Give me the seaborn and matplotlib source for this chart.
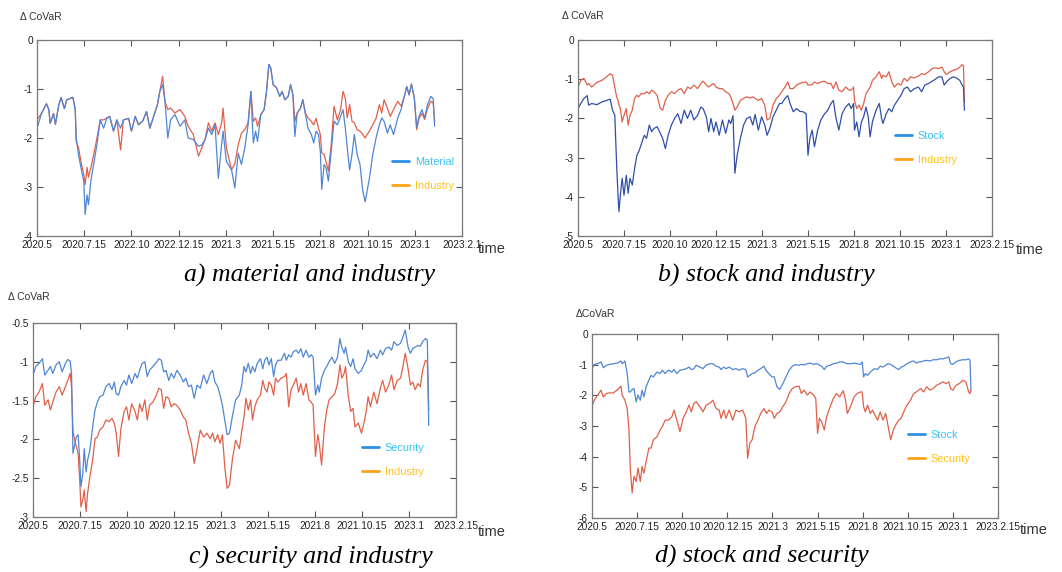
import numpy as np
import pandas as pd
import matplotlib
matplotlib.use("Agg")
import matplotlib.pyplot as plt
from matplotlib.lines import Line2D
import seaborn as sns

# tick labels (x axis = time, 10 evenly spaced labels)
ticks_a = ['2020.5', '2020.7.15', '2022.10', '2022.12.15', '2021.3', '2021.5.15',
           '2021.8', '2021.10.15', '2023.1', '2023.2.1']
ticks_bcd = ['2020.5', '2020.7.15', '2020.10', '2020.12.15', '2021.3', '2021.5.15',
             '2021.8', '2021.10.15', '2023.1', '2023.2.15']

# a) material and industry
t_a = [0.00, 0.10, 0.20, 0.25, 0.28, 0.35, 0.39, 0.46, 0.51, 0.58, 0.63, 0.76, 0.81, 0.83, 0.88, 0.93,
       0.99, 1.02, 1.06, 1.09, 1.14, 1.20, 1.27, 1.34, 1.41, 1.48, 1.54, 1.62, 1.69, 1.77, 1.83, 1.94,
       2.00, 2.08, 2.15, 2.24, 2.32, 2.39, 2.46, 2.55, 2.60, 2.66, 2.71, 2.77, 2.83, 2.92, 3.03, 3.13,
       3.20, 3.31, 3.42, 3.49, 3.56, 3.63, 3.70, 3.77, 3.84, 3.91, 3.94, 4.01, 4.12, 4.19, 4.26, 4.33,
       4.40, 4.47, 4.53, 4.58, 4.63, 4.67, 4.74, 4.81, 4.86, 4.91, 4.95, 5.00, 5.07, 5.14, 5.19, 5.25,
       5.32, 5.37, 5.42, 5.46, 5.51, 5.58, 5.63, 5.68, 5.74, 5.81, 5.86, 5.91, 5.96, 6.00, 6.03, 6.08,
       6.12, 6.17, 6.23, 6.29, 6.36, 6.43, 6.48, 6.53, 6.57, 6.62, 6.67, 6.72, 6.78, 6.84, 6.90, 6.95,
       6.99, 7.04, 7.11, 7.18, 7.25, 7.30, 7.35, 7.42, 7.48, 7.55, 7.64, 7.71, 7.78, 7.83, 7.88, 7.93,
       7.99, 8.04, 8.09, 8.15, 8.21, 8.27, 8.34, 8.39, 8.42]
material_a = [-1.80, -1.49, -1.30, -1.42, -1.70, -1.50, -1.72, -1.33, -1.17, -1.40, -1.22, -1.17, -1.42, -2.00, -2.34, -2.60,
              -2.88, -3.56, -3.16, -3.36, -2.88, -2.54, -2.13, -1.63, -1.80, -1.59, -1.56, -1.86, -1.63, -1.80, -1.63, -1.60,
              -1.86, -1.56, -1.73, -1.65, -1.46, -1.80, -1.59, -1.32, -1.05, -0.91, -1.25, -2.00, -1.63, -1.52, -1.76, -1.63,
              -2.00, -2.03, -2.17, -2.14, -2.03, -1.80, -1.93, -1.73, -2.82, -2.13, -1.86, -2.48, -2.65, -3.02, -2.31, -2.54,
              -2.20, -1.73, -1.05, -2.10, -1.86, -2.07, -1.52, -1.42, -1.05, -0.50, -0.57, -0.91, -0.97, -1.15, -1.05, -1.22,
              -1.15, -0.91, -1.12, -1.97, -1.49, -1.39, -1.22, -1.49, -1.80, -1.93, -2.10, -1.86, -1.93, -2.27, -3.05, -2.54,
              -2.61, -2.88, -2.27, -1.66, -1.73, -1.56, -1.42, -1.80, -2.20, -2.65, -2.34, -1.93, -2.34, -2.54, -3.09, -3.30,
              -3.09, -2.82, -2.34, -2.00, -1.73, -1.59, -1.66, -1.90, -1.73, -1.93, -1.59, -1.42, -1.15, -0.95, -1.12, -0.90,
              -1.18, -1.78, -1.56, -1.42, -1.59, -1.32, -1.15, -1.20, -1.76]
industry_a = [-1.63, -1.49, -1.30, -1.42, -1.70, -1.50, -1.72, -1.33, -1.17, -1.40, -1.22, -1.17, -1.42, -2.07, -2.20, -2.48,
              -2.75, -2.95, -2.60, -2.80, -2.61, -2.34, -2.00, -1.63, -1.63, -1.59, -1.56, -1.86, -1.63, -2.24, -1.63, -1.60,
              -1.86, -1.56, -1.73, -1.65, -1.46, -1.80, -1.59, -1.32, -1.05, -0.74, -1.25, -1.42, -1.39, -1.49, -1.42, -1.56,
              -1.76, -1.93, -2.37, -2.20, -2.03, -1.69, -1.86, -1.69, -1.93, -1.69, -1.39, -2.20, -2.65, -2.52, -2.14, -1.90,
              -1.83, -1.69, -1.05, -1.66, -1.59, -1.76, -1.52, -1.42, -1.05, -0.50, -0.57, -0.91, -0.97, -1.15, -1.05, -1.22,
              -1.15, -0.91, -1.12, -1.66, -1.49, -1.39, -1.22, -1.49, -1.59, -1.66, -1.73, -1.60, -1.80, -1.93, -2.30, -2.34,
              -2.48, -2.67, -2.14, -1.35, -1.63, -1.42, -1.05, -1.19, -1.59, -1.32, -1.66, -1.69, -1.83, -1.86, -1.93, -2.00,
              -1.93, -1.86, -1.73, -1.60, -1.32, -1.49, -1.22, -1.39, -1.56, -1.42, -1.25, -1.35, -1.15, -0.95, -1.12, -0.90,
              -1.18, -1.83, -1.60, -1.50, -1.62, -1.40, -1.25, -1.28, -1.66]

# b) stock and industry
t_b = [0.00, 0.06, 0.13, 0.20, 0.23, 0.30, 0.41, 0.52, 0.62, 0.70, 0.75, 0.80, 0.84, 0.87, 0.89, 0.92,
       0.96, 1.00, 1.05, 1.09, 1.13, 1.18, 1.23, 1.28, 1.32, 1.37, 1.44, 1.49, 1.55, 1.60, 1.65, 1.72,
       1.79, 1.84, 1.90, 1.96, 2.03, 2.10, 2.17, 2.24, 2.31, 2.38, 2.45, 2.52, 2.60, 2.67, 2.72, 2.79,
       2.84, 2.89, 2.95, 3.00, 3.07, 3.14, 3.21, 3.28, 3.32, 3.37, 3.41, 3.46, 3.53, 3.60, 3.67, 3.74,
       3.80, 3.85, 3.92, 3.99, 4.06, 4.11, 4.17, 4.24, 4.31, 4.38, 4.43, 4.50, 4.56, 4.61, 4.68, 4.75,
       4.82, 4.89, 4.96, 5.00, 5.04, 5.09, 5.14, 5.21, 5.28, 5.35, 5.43, 5.50, 5.55, 5.61, 5.67, 5.74,
       5.82, 5.89, 5.94, 5.99, 6.01, 6.06, 6.11, 6.16, 6.21, 6.26, 6.31, 6.35, 6.40, 6.48, 6.55, 6.60,
       6.63, 6.70, 6.76, 6.82, 6.88, 6.95, 7.02, 7.09, 7.16, 7.23, 7.30, 7.40, 7.47, 7.54, 7.62, 7.70,
       7.77, 7.84, 7.91, 7.96, 8.01, 8.09, 8.16, 8.23, 8.30, 8.35, 8.38, 8.40]
stock_b = [-1.75, -1.62, -1.49, -1.42, -1.66, -1.62, -1.65, -1.58, -1.54, -1.51, -1.79, -1.92, -3.19, -3.96, -4.38, -3.96,
           -3.53, -3.96, -3.45, -3.91, -3.53, -3.70, -3.28, -2.94, -2.85, -2.68, -2.43, -2.51, -2.17, -2.34, -2.26, -2.21,
           -2.38, -2.51, -2.77, -2.43, -2.17, -2.00, -1.88, -2.13, -1.79, -2.00, -1.79, -2.04, -1.92, -1.71, -1.75, -1.96,
           -2.34, -2.00, -2.34, -2.09, -2.43, -2.04, -2.38, -2.04, -2.13, -1.93, -3.40, -2.94, -2.51, -2.17, -2.00, -1.96,
           -2.17, -1.90, -2.30, -1.96, -2.17, -2.43, -2.26, -1.96, -1.79, -1.62, -1.62, -1.49, -1.42, -1.62, -1.83, -1.75,
           -1.82, -1.83, -1.88, -2.94, -2.51, -2.30, -2.72, -2.30, -2.04, -1.90, -1.79, -1.62, -1.54, -2.00, -2.30, -1.88,
           -1.71, -1.62, -1.75, -1.62, -2.30, -2.09, -2.47, -2.09, -1.96, -1.71, -1.96, -2.47, -2.09, -1.79, -1.62, -2.00,
           -2.13, -1.88, -1.75, -1.83, -1.66, -1.54, -1.41, -1.24, -1.20, -1.32, -1.25, -1.20, -1.32, -1.15, -1.11, -1.05,
           -1.00, -0.94, -0.94, -1.15, -1.07, -0.98, -0.94, -0.97, -1.03, -1.15, -1.20, -1.79]
industry_b = [-1.20, -1.03, -0.98, -1.15, -1.11, -1.20, -1.08, -1.03, -0.94, -0.86, -0.90, -1.20, -1.45, -1.54, -1.66, -1.75,
              -2.09, -1.92, -1.75, -2.17, -1.92, -1.79, -1.49, -1.41, -1.45, -1.37, -1.37, -1.32, -1.37, -1.28, -1.32, -1.41,
              -1.75, -1.79, -1.54, -1.41, -1.32, -1.37, -1.28, -1.24, -1.37, -1.20, -1.24, -1.15, -1.24, -1.11, -1.05, -1.15,
              -1.20, -1.15, -1.11, -1.20, -1.24, -1.24, -1.32, -1.37, -1.45, -1.62, -1.79, -1.71, -1.54, -1.49, -1.45, -1.48,
              -1.45, -1.49, -1.54, -1.49, -1.66, -2.04, -2.00, -1.66, -1.49, -1.41, -1.32, -1.20, -1.07, -1.24, -1.24, -1.15,
              -1.11, -1.08, -1.07, -1.15, -1.15, -1.14, -1.07, -1.11, -1.07, -1.05, -1.11, -1.11, -1.24, -1.07, -1.28, -1.32,
              -1.20, -1.28, -1.28, -1.20, -1.54, -1.75, -1.66, -1.79, -1.62, -1.37, -1.28, -1.20, -1.03, -0.94, -0.81, -0.98,
              -0.90, -0.94, -0.81, -1.07, -1.20, -1.11, -1.15, -0.98, -1.05, -0.94, -0.97, -0.92, -0.86, -0.88, -0.81, -0.73,
              -0.71, -0.73, -0.69, -0.81, -0.88, -0.81, -0.77, -0.75, -0.69, -0.63, -0.65, -1.60]

# c) security and industry
t_c = [0.00, 0.06, 0.13, 0.20, 0.25, 0.32, 0.37, 0.42, 0.49, 0.56, 0.62, 0.69, 0.74, 0.79, 0.82, 0.85,
       0.88, 0.92, 0.96, 0.99, 1.02, 1.06, 1.09, 1.13, 1.16, 1.21, 1.27, 1.32, 1.37, 1.42, 1.49, 1.55,
       1.62, 1.68, 1.73, 1.77, 1.82, 1.87, 1.94, 1.99, 2.04, 2.10, 2.17, 2.22, 2.27, 2.32, 2.38, 2.43,
       2.48, 2.55, 2.61, 2.68, 2.73, 2.78, 2.83, 2.89, 2.94, 3.00, 3.06, 3.13, 3.20, 3.25, 3.31, 3.37,
       3.43, 3.49, 3.56, 3.63, 3.70, 3.77, 3.82, 3.87, 3.93, 3.98, 4.03, 4.08, 4.13, 4.18, 4.24, 4.31,
       4.39, 4.44, 4.49, 4.53, 4.58, 4.63, 4.67, 4.72, 4.77, 4.84, 4.89, 4.93, 4.98, 5.02, 5.07, 5.12,
       5.16, 5.21, 5.28, 5.35, 5.39, 5.44, 5.49, 5.54, 5.60, 5.65, 5.70, 5.75, 5.81, 5.87, 5.92, 5.96,
       6.01, 6.06, 6.09, 6.14, 6.20, 6.25, 6.30, 6.36, 6.42, 6.48, 6.53, 6.57, 6.62, 6.65, 6.71, 6.76,
       6.81, 6.85, 6.92, 6.99, 7.04, 7.09, 7.13, 7.18, 7.25, 7.32, 7.39, 7.44, 7.50, 7.57, 7.63, 7.68,
       7.75, 7.82, 7.87, 7.92, 7.98, 8.03, 8.08, 8.13, 8.19, 8.24, 8.29, 8.35, 8.39, 8.42]
security_c = [-1.17, -1.06, -1.02, -0.96, -1.17, -1.11, -1.06, -1.15, -1.04, -1.00, -1.13, -1.02, -0.97, -0.99, -1.15, -2.18,
              -2.09, -1.97, -1.94, -2.22, -2.61, -2.44, -2.12, -2.42, -2.27, -2.14, -1.84, -1.62, -1.52, -1.45, -1.43, -1.32,
              -1.28, -1.36, -1.26, -1.41, -1.43, -1.32, -1.24, -1.30, -1.17, -1.28, -1.15, -1.21, -1.11, -1.02, -1.00, -1.19,
              -1.11, -1.06, -1.02, -0.96, -0.98, -1.13, -1.11, -1.24, -1.15, -1.21, -1.11, -1.17, -1.26, -1.21, -1.32, -1.30,
              -1.47, -1.30, -1.34, -1.17, -1.28, -1.15, -1.11, -1.26, -1.32, -1.43, -1.56, -1.75, -1.94, -1.92, -1.71, -1.49,
              -1.43, -1.30, -1.06, -1.13, -1.02, -1.15, -1.06, -1.13, -1.02, -0.96, -1.09, -0.98, -0.94, -1.04, -0.96, -1.19,
              -1.04, -0.98, -0.98, -0.89, -0.98, -0.91, -0.94, -0.87, -0.85, -0.89, -0.83, -0.94, -0.85, -0.94, -0.91, -0.94,
              -1.43, -1.30, -1.39, -1.21, -1.11, -1.06, -1.00, -0.94, -1.02, -0.94, -0.70, -0.81, -0.89, -0.81, -1.00, -1.06,
              -0.96, -1.09, -1.15, -1.11, -1.04, -0.98, -0.85, -0.94, -0.89, -0.96, -0.85, -0.91, -0.83, -0.81, -0.85, -0.74,
              -0.79, -0.76, -0.68, -0.59, -0.81, -0.89, -0.83, -0.81, -0.79, -0.80, -0.74, -0.70, -0.72, -1.82]
industry_c = [-1.58, -1.45, -1.39, -1.28, -1.56, -1.49, -1.62, -1.52, -1.39, -1.32, -1.43, -1.32, -1.24, -1.15, -1.32, -1.88,
              -1.99, -2.09, -2.18, -2.48, -2.87, -2.78, -2.65, -2.93, -2.70, -2.48, -2.27, -1.99, -1.97, -1.88, -1.84, -1.75,
              -1.77, -1.73, -1.79, -1.92, -2.22, -1.86, -1.64, -1.58, -1.75, -1.54, -1.64, -1.75, -1.54, -1.64, -1.49, -1.75,
              -1.56, -1.52, -1.45, -1.34, -1.36, -1.60, -1.45, -1.47, -1.58, -1.54, -1.56, -1.62, -1.71, -1.75, -1.92, -2.05,
              -2.31, -2.12, -1.88, -1.97, -1.92, -1.99, -1.92, -2.03, -1.94, -2.05, -1.94, -2.35, -2.63, -2.59, -2.27, -2.01,
              -2.12, -1.90, -1.71, -1.47, -1.62, -1.49, -1.75, -1.58, -1.49, -1.43, -1.24, -1.34, -1.39, -1.26, -1.30, -1.43,
              -1.21, -1.26, -1.21, -1.19, -1.15, -1.58, -1.36, -1.30, -1.21, -1.39, -1.28, -1.43, -1.28, -1.49, -1.52, -1.56,
              -2.22, -1.94, -2.05, -2.33, -1.84, -1.62, -1.49, -1.45, -1.41, -1.28, -1.04, -1.21, -1.15, -1.06, -1.45, -1.64,
              -1.60, -1.84, -1.79, -1.92, -1.79, -1.64, -1.45, -1.58, -1.39, -1.54, -1.34, -1.24, -1.39, -1.30, -1.17, -1.36,
              -1.24, -1.21, -1.06, -0.89, -1.09, -1.30, -1.26, -1.36, -1.28, -1.32, -1.11, -0.98, -1.00, -1.62]

# d) stock and security
t_d = [0.00, 0.05, 0.12, 0.20, 0.25, 0.32, 0.39, 0.47, 0.56, 0.64, 0.67, 0.73, 0.78, 0.82, 0.85, 0.89,
       0.93, 0.98, 1.02, 1.07, 1.11, 1.15, 1.20, 1.26, 1.31, 1.36, 1.44, 1.51, 1.56, 1.62, 1.69, 1.77,
       1.82, 1.88, 1.95, 2.02, 2.09, 2.15, 2.20, 2.26, 2.31, 2.39, 2.46, 2.53, 2.61, 2.68, 2.75, 2.82,
       2.86, 2.92, 2.97, 3.04, 3.12, 3.19, 3.26, 3.34, 3.41, 3.45, 3.50, 3.55, 3.61, 3.68, 3.74, 3.81,
       3.87, 3.92, 3.99, 4.04, 4.10, 4.16, 4.23, 4.30, 4.37, 4.44, 4.51, 4.59, 4.64, 4.70, 4.77, 4.84,
       4.91, 4.96, 5.00, 5.04, 5.09, 5.15, 5.20, 5.28, 5.35, 5.42, 5.49, 5.57, 5.62, 5.66, 5.73, 5.81,
       5.88, 5.95, 5.99, 6.02, 6.06, 6.11, 6.17, 6.22, 6.27, 6.33, 6.39, 6.45, 6.51, 6.56, 6.62, 6.68,
       6.73, 6.80, 6.85, 6.91, 6.98, 7.06, 7.13, 7.19, 7.24, 7.29, 7.35, 7.42, 7.49, 7.56, 7.64, 7.71,
       7.78, 7.85, 7.91, 7.95, 8.00, 8.07, 8.14, 8.22, 8.29, 8.35, 8.38, 8.40]
stock_d = [-1.13, -0.99, -0.97, -0.91, -1.10, -1.02, -0.99, -0.97, -0.95, -0.88, -0.97, -0.88, -1.29, -1.89, -1.89, -1.81,
           -1.78, -2.21, -1.99, -2.16, -1.83, -2.05, -1.72, -1.51, -1.35, -1.40, -1.24, -1.29, -1.18, -1.29, -1.18, -1.24,
           -1.16, -1.29, -1.18, -1.16, -1.13, -1.08, -1.16, -1.13, -1.02, -1.08, -1.13, -1.02, -0.97, -0.97, -1.05, -1.08,
           -1.16, -1.08, -1.13, -1.08, -1.16, -1.13, -1.18, -1.13, -1.16, -1.40, -1.35, -1.29, -1.27, -1.18, -1.13, -1.05,
           -1.21, -1.29, -1.40, -1.40, -1.72, -1.81, -1.62, -1.40, -1.18, -1.05, -1.00, -1.02, -0.99, -1.01, -0.97, -0.95,
           -0.99, -0.97, -0.97, -1.02, -1.05, -1.16, -1.05, -1.02, -0.97, -0.95, -0.91, -0.91, -0.95, -0.97, -0.97, -0.95,
           -0.97, -0.99, -0.91, -1.40, -1.29, -1.35, -1.24, -1.18, -1.13, -1.16, -1.05, -1.08, -1.02, -0.97, -0.99, -1.05,
           -1.10, -1.16, -1.08, -1.05, -0.97, -0.91, -0.88, -0.95, -0.91, -0.91, -0.88, -0.86, -0.88, -0.84, -0.84, -0.81,
           -0.81, -0.78, -0.75, -0.97, -0.99, -0.91, -0.86, -0.84, -0.84, -0.81, -0.86, -1.83]
security_d = [-2.35, -2.16, -2.00, -1.83, -2.05, -1.94, -1.92, -1.92, -1.83, -1.70, -1.99, -2.16, -2.43, -3.13, -4.43, -5.18,
              -4.64, -4.81, -4.37, -4.81, -4.32, -4.54, -4.16, -3.72, -3.72, -3.45, -3.35, -3.13, -3.02, -2.81, -2.81, -2.70,
              -2.48, -2.81, -3.18, -2.75, -2.54, -2.32, -2.54, -2.26, -2.21, -2.37, -2.54, -2.32, -2.26, -2.16, -2.43, -2.48,
              -2.75, -2.48, -2.75, -2.48, -2.81, -2.48, -2.54, -2.48, -2.75, -4.05, -3.56, -3.45, -3.02, -2.81, -2.59, -2.43,
              -2.59, -2.48, -2.54, -2.75, -2.59, -2.54, -2.37, -2.21, -1.94, -1.78, -1.72, -1.70, -1.94, -1.83, -1.99, -1.89,
              -1.99, -2.10, -3.24, -2.75, -2.86, -3.13, -2.70, -2.37, -2.10, -1.94, -2.05, -1.85, -2.16, -2.59, -2.37, -2.05,
              -1.94, -1.89, -1.89, -2.37, -2.54, -2.32, -2.59, -2.48, -2.64, -2.81, -2.54, -2.81, -2.59, -2.97, -3.45, -3.13,
              -2.97, -2.81, -2.75, -2.54, -2.32, -2.16, -1.94, -1.89, -1.83, -1.78, -1.89, -1.72, -1.83, -1.78, -1.67, -1.62,
              -1.56, -1.62, -1.56, -1.78, -1.83, -1.67, -1.62, -1.51, -1.56, -1.89, -1.94, -1.83]

W, H = 1062, 572

sns.set_theme(style="white")
plt.rcParams['font.family'] = ['Liberation Sans', 'DejaVu Sans']
plt.rcParams['axes.unicode_minus'] = False

fig = plt.figure(figsize=(W / 100, H / 100), dpi=100)


def box(left, top, right, bottom):
    # pixel box -> figure fraction
    return [left / W, 1 - bottom / H, (right - left) / W, (bottom - top) / H]


def fx(x, y):
    return x / W, 1 - y / H


panels = [
    dict(rect=box(37, 40, 462, 236), t=t_a, s1=material_a, s2=industry_a,
         names=('Material', 'Industry'), ylim=(-4, 0), yticks=[-4, -3, -2, -1, 0],
         ylabels=['-4', '-3', '-2', '-1', '0'], xlabels=ticks_a, c1='#4f86d4',
         covar=(20, 17, '\u0394 CoVaR'), time=(478, 249),
         cap=(310, 275, 'a) material and industry'), leg=(392, 157)),
    dict(rect=box(578, 40, 992, 236), t=t_b, s1=stock_b, s2=industry_b,
         names=('Stock', 'Industry'), ylim=(-5, 0), yticks=[-5, -4, -3, -2, -1, 0],
         ylabels=['-5', '-4', '-3', '-2', '-1', '0'], xlabels=ticks_bcd, c1='#2f4fa8',
         covar=(562, 16, '\u0394 CoVaR'), time=(1016, 250),
         cap=(766, 275, 'b) stock and industry'), leg=(895, 131)),
    dict(rect=box(33, 323, 456, 517), t=t_c, s1=security_c, s2=industry_c,
         names=('Security', 'Industry'), ylim=(-3, -0.5), yticks=[-3, -2.5, -2, -1.5, -1, -0.5],
         ylabels=['-3', '-2.5', '-2', '-1.5', '-1', '-0.5'], xlabels=ticks_bcd, c1='#4f86d4',
         covar=(8, 297, '\u0394 CoVaR'), time=(478, 532),
         cap=(311, 557, 'c) security and industry'), leg=(362, 443)),
    dict(rect=box(592, 334, 998, 518), t=t_d, s1=stock_d, s2=security_d,
         names=('Stock', 'Security'), ylim=(-6, 0), yticks=[-6, -5, -4, -3, -2, -1, 0],
         ylabels=['-6', '-5', '-4', '-3', '-2', '-1', '0'], xlabels=ticks_bcd, c1='#4f86d4',
         covar=(576, 314, '\u0394CoVaR'), time=(1020, 530),
         cap=(762, 556, 'd) stock and security'), leg=(908, 430)),
]

red = '#e0604a'
for p in panels:
    ax = fig.add_axes(p['rect'])
    df = pd.DataFrame({'t': p['t'], 'a': p['s1'], 'b': p['s2']})
    sns.lineplot(data=df, x='t', y='b', ax=ax, color=red, lw=0.9, sort=False, estimator=None)
    sns.lineplot(data=df, x='t', y='a', ax=ax, color=p['c1'], lw=0.9, sort=False, estimator=None)
    ax.set_xlim(0, 9)
    ax.set_ylim(*p['ylim'])
    ax.set_xticks(range(10))
    ax.set_xticklabels(p['xlabels'])
    ax.set_yticks(p['yticks'])
    ax.set_yticklabels(p['ylabels'])
    ax.set_xlabel('')
    ax.set_ylabel('')
    for sp in ax.spines.values():
        sp.set_color('#7a7a7a')
        sp.set_linewidth(0.9)
    ax.tick_params(direction='in', bottom=True, left=True, top=True, right=True,
                   length=4, width=0.8, color='#555555', labelsize=7.3, pad=3,
                   labelcolor='#222222')
    handles = [Line2D([], [], color='#2e8fe6', lw=2), Line2D([], [], color='#ffa21a', lw=2)]
    lx, ly = fx(*p['leg'])
    ax.legend(handles, p['names'], loc='upper left', bbox_to_anchor=(lx, ly),
              bbox_transform=fig.transFigure, frameon=False, fontsize=7.8,
              labelcolor=['#3cc3f2', '#ffc21a'], handlelength=1.6, handletextpad=0.5,
              labelspacing=1.3, borderpad=0, borderaxespad=0)

    x, y, s = p['covar']
    fig.text(*fx(x, y), s, fontsize=7.5, ha='left', va='center', color='#333333')
    fig.text(*fx(*p['time']), 'time', fontsize=10.5, ha='left', va='center', color='#333333')
    x, y, s = p['cap']
    fig.text(*fx(x, y), s, fontsize=18.5, ha='center', va='center', color='black',
             family='Liberation Serif', style='italic')

fig.savefig('out.png', dpi=100)
